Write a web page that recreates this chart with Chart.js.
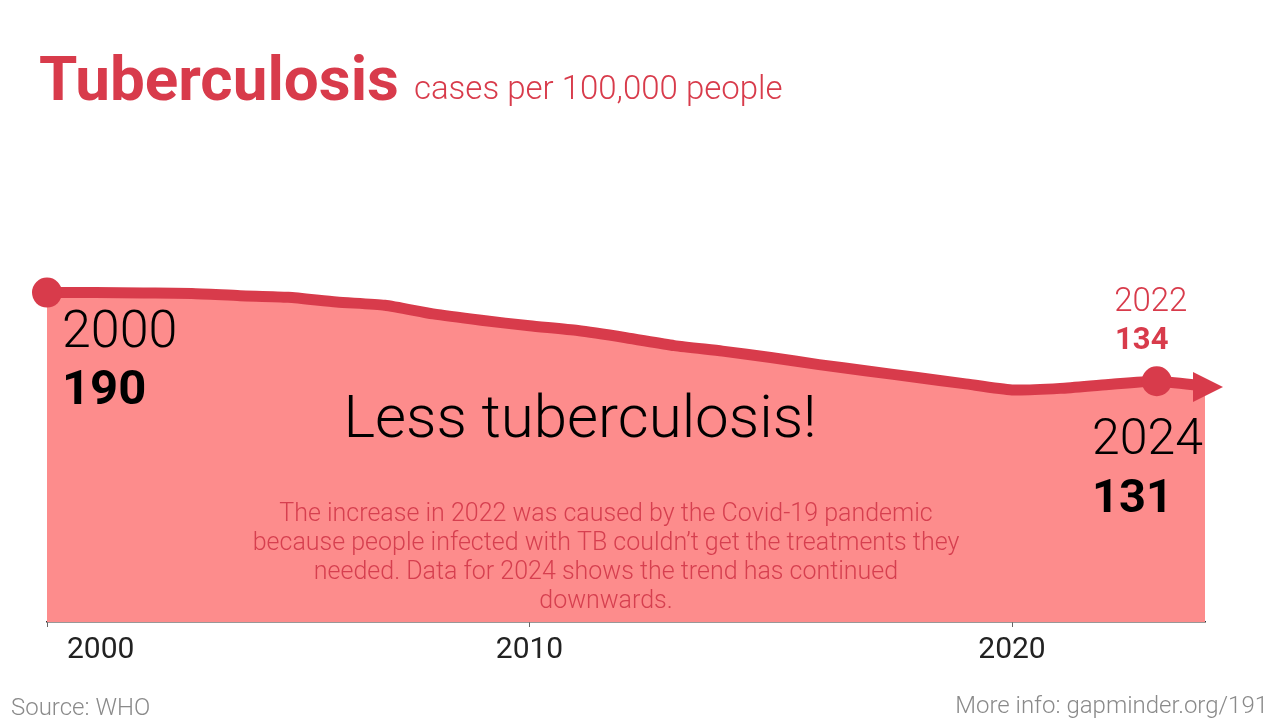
<!DOCTYPE html>
<html>
<head>
<meta charset="utf-8">
<script src="https://cdn.jsdelivr.net/npm/chart.js@4"></script>
<style>
  html, body { margin: 0; padding: 0; background: #fff; }
  #wrap { width: 1280px; height: 720px; position: relative; }
</style>
</head>
<body>
<div id="wrap"><canvas id="tbChart"></canvas></div>
<script>
// data (cases per 100,000 people)
var years = [2000, 2001, 2002, 2003, 2004, 2005, 2006, 2007, 2008, 2009, 2010, 2011, 2012,
             2013, 2014, 2015, 2016, 2017, 2018, 2019, 2020, 2021, 2022, 2023, 2024];
var cases = [190, 190, 189.7, 189.4, 188, 187, 184, 182, 176.5, 172.5, 169, 166, 161.5,
             156.5, 153, 149, 144.5, 140.5, 136.5, 132.5, 128.5, 129.5, 132, 134, 131];
var xTicks = [2000, 2010, 2020];
var dotYears = [2000, 2023];

var RED = '#d83b4b';
var FILL = '#fd8c8c';

var points = [];
for (var i = 0; i < years.length; i++) {
    points.push({ x: years[i], y: cases[i] });
}

var textPlugin = {
    id: 'texts',
    afterDatasetsDraw: function (chart) {
        var c = chart.ctx;
        var xs = chart.scales.x, ys = chart.scales.y;
        // arrow at the end of the line
        var n = points.length;
        var x1 = xs.getPixelForValue(points[n - 1].x), y1 = ys.getPixelForValue(points[n - 1].y);
        c.save();
        c.fillStyle = RED;
        c.beginPath();
        c.moveTo(x1 + 18, y1 + 1);
        c.lineTo(x1 - 12, y1 - 14);
        c.lineTo(x1 - 12, y1 + 16);
        c.closePath();
        c.fill();
        c.restore();
    },
    afterDraw: function (chart) {
        var c = chart.ctx;
        var xs = chart.scales.x, ys = chart.scales.y;
        c.save();
        c.textBaseline = 'alphabetic';

        // title
        c.fillStyle = RED;
        c.textAlign = 'left';
        c.font = 'bold 62px Roboto';
        c.fillText('Tuberculosis', 39, 100);
        var w = c.measureText('Tuberculosis').width;
        c.font = '300 33px Roboto';
        c.fillText('cases per 100,000 people', 39 + w + 15, 99);

        // x tick labels
        c.fillStyle = '#222';
        c.font = '400 30px Roboto';
        xTicks.forEach(function (t, k) {
            var px = xs.getPixelForValue(t);
            c.textAlign = k === 0 ? 'left' : 'center';
            c.fillText(String(t), k === 0 ? px + 20 : px, 658);
        });

        // start label
        var p0x = xs.getPixelForValue(years[0]);
        c.textAlign = 'left';
        c.fillStyle = '#000';
        c.font = '300 52px Roboto';
        c.fillText('2000', p0x + 15, 347);
        c.font = 'bold 49px Roboto';
        c.fillText('190', p0x + 15, 404);

        // end label
        var pe = xs.getPixelForValue(years[years.length - 1]);
        c.textAlign = 'right';
        c.font = '300 50px Roboto';
        c.fillText('2024', pe - 2, 454);
        c.textAlign = 'left';
        c.font = 'bold 47px Roboto';
        c.fillText('131', pe - 113, 512);

        // 2022 label above the dot
        var pd = xs.getPixelForValue(dotYears[1]);
        c.fillStyle = RED;
        c.textAlign = 'center';
        c.font = '300 33px Roboto';
        c.fillText('2022', pd - 6, 311);
        c.font = 'bold 31px Roboto';
        c.fillText('134', pd - 15, 349);

        // headline
        c.fillStyle = '#000';
        c.font = '300 60px Roboto';
        c.fillText('Less tuberculosis!', 580, 437);

        // note
        c.fillStyle = '#d63f4f';
        c.font = '300 25px Roboto';
        var lines = ['The increase in 2022 was caused by the Covid-19 pandemic',
                     'because people infected with TB couldn\u2019t get the treatments they',
                     'needed. Data for 2024 shows the trend has continued',
                     'downwards.'];
        lines.forEach(function (l, k) {
            c.fillText(l, 606, 521 + k * 29);
        });

        // footer
        c.fillStyle = '#8a8a8a';
        c.font = '300 24px Roboto';
        c.textAlign = 'left';
        c.fillText('Source: WHO', 11, 715);
        c.textAlign = 'right';
        c.fillText('More info: gapminder.org/191', 1268, 713);
        c.restore();
    }
};

new Chart(document.getElementById('tbChart').getContext('2d'), {
    type: 'line',
    data: {
        datasets: [{
            data: points,
            borderColor: RED,
            borderWidth: 11,
            backgroundColor: FILL,
            fill: 'start',
            tension: 0.2,
            clip: false,
            pointRadius: function (ctx) {
                return ctx.raw && dotYears.indexOf(ctx.raw.x) >= 0 ? 15 : 0;
            },
            pointHoverRadius: 0,
            pointBackgroundColor: RED,
            pointBorderWidth: 0
        }]
    },
    options: {
        responsive: true,
        maintainAspectRatio: false,
        animation: false,
        events: [],
        layout: { padding: { left: 47, right: 75, top: 150, bottom: 0 } },
        plugins: { legend: { display: false }, tooltip: { enabled: false } },
        scales: {
            x: {
                type: 'linear',
                min: 2000,
                max: 2024,
                afterBuildTicks: function (s) {
                    s.ticks = xTicks.map(function (v) { return { value: v }; });
                },
                afterFit: function (s) { s.height = 98; },
                ticks: { color: 'rgba(0,0,0,0)', font: { size: 28 } },
                grid: { display: true, drawOnChartArea: false, tickLength: 5, color: '#666', lineWidth: 1 },
                border: { display: true, color: '#333', width: 1.5 }
            },
            y: {
                display: false,
                min: -18,
                max: 280
            }
        }
    },
    plugins: [textPlugin]
});
</script>
</body>
</html>
